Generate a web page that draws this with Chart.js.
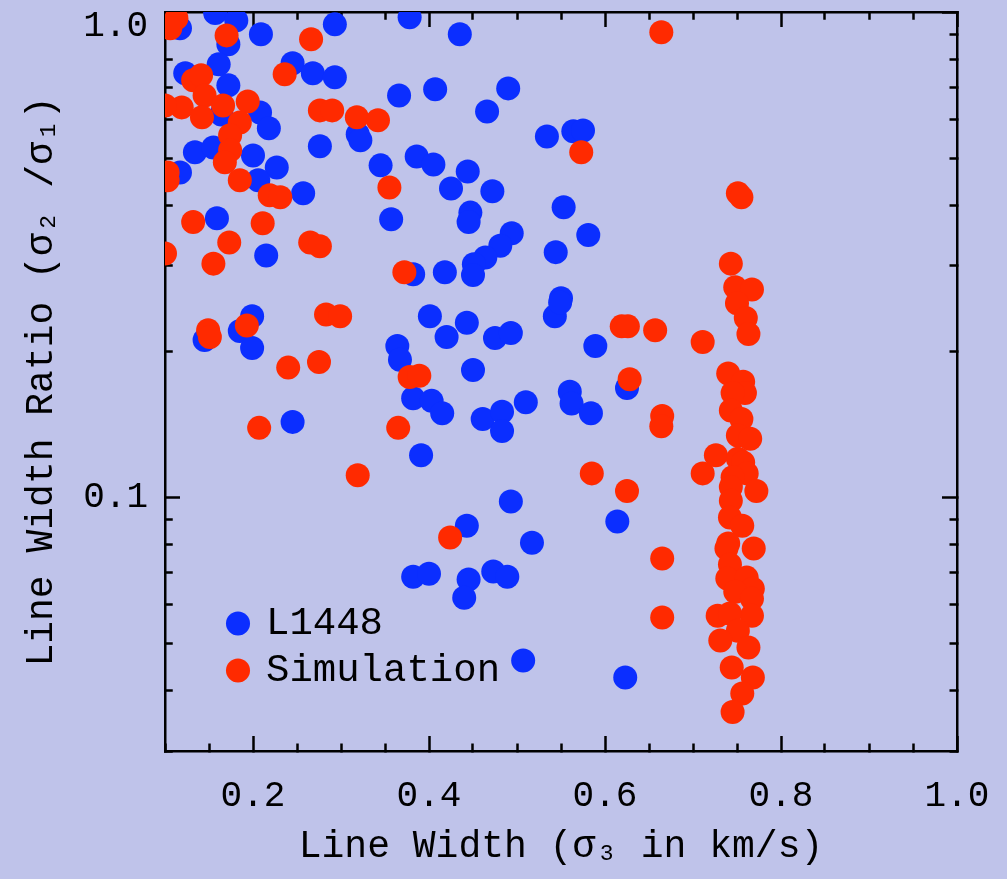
<!DOCTYPE html>
<html>
<head>
<meta charset="utf-8">
<title>Line Width Ratio vs Line Width</title>
<script src="https://cdn.jsdelivr.net/npm/chart.js@4.4.1/dist/chart.umd.min.js"></script>
<style>
  html, body { margin: 0; padding: 0; background: #bfc3ea; }
  #wrap { position: relative; width: 1007px; height: 879px; }
</style>
</head>
<body>
<div id="wrap"><canvas id="ratioChart"></canvas></div>
<script>
// L1448 measurements: sigma_3 (km/s) and sigma_2/sigma_1
const l1448X = [0.117, 0.157, 0.181, 0.172, 0.209, 0.293, 0.378, 0.435,
  0.161, 0.123, 0.245, 0.268, 0.293, 0.172, 0.164, 0.208, 0.218, 0.366, 0.407, 0.490, 0.466,
  0.134, 0.155, 0.200, 0.227, 0.117, 0.206, 0.257, 0.276, 0.319, 0.322, 0.534, 0.564, 0.575,
  0.345, 0.386, 0.405, 0.444, 0.425, 0.472, 0.553, 0.357, 0.447, 0.445, 0.159, 0.215, 0.494,
  0.481, 0.464, 0.451, 0.450, 0.581, 0.544, 0.382, 0.418, 0.550,
  0.199, 0.185, 0.199, 0.145, 0.245, 0.401, 0.420, 0.443, 0.475, 0.493, 0.543, 0.549, 0.364,
  0.367, 0.450, 0.589,
  0.382, 0.403, 0.415, 0.461, 0.483, 0.483, 0.510, 0.560, 0.562, 0.584, 0.391, 0.625,
  0.493, 0.614, 0.443, 0.517, 0.382, 0.400, 0.445, 0.440, 0.473, 0.489, 0.507, 0.623];
const l1448Y = [0.926, 0.995, 0.961, 0.858, 0.900, 0.943, 0.975, 0.900,
  0.780, 0.748, 0.784, 0.748, 0.734, 0.706, 0.615, 0.621, 0.576, 0.673, 0.693, 0.696, 0.624,
  0.514, 0.526, 0.506, 0.478, 0.467, 0.450, 0.423, 0.529, 0.560, 0.544, 0.554, 0.568, 0.570,
  0.483, 0.504, 0.485, 0.469, 0.433, 0.427, 0.396, 0.374, 0.386, 0.369, 0.376, 0.315, 0.350,
  0.330, 0.312, 0.302, 0.287, 0.347, 0.320, 0.288, 0.291, 0.257,
  0.236, 0.220, 0.203, 0.211, 0.143, 0.236, 0.214, 0.229, 0.213, 0.218, 0.236, 0.252, 0.205,
  0.192, 0.183, 0.205,
  0.160, 0.158, 0.149, 0.145, 0.150, 0.137, 0.157, 0.165, 0.156, 0.149, 0.122, 0.168,
  0.0980, 0.0891, 0.0874, 0.0806, 0.0686, 0.0696, 0.0677, 0.0621, 0.0703, 0.0686, 0.0461, 0.0425];

// simulated cores
const simX = [0.113, 0.106, 0.170, 0.266, 0.236, 0.132, 0.141, 0.145, 0.119, 0.142,
  0.166, 0.194, 0.185, 0.174, 0.174, 0.168, 0.185, 0.103, 0.103, 0.219,
  0.231, 0.132, 0.211, 0.173, 0.155, 0.265, 0.276, 0.100, 0.100, 0.276,
  0.290, 0.318, 0.342, 0.355, 0.372, 0.573, 0.664,
  0.283, 0.299, 0.275, 0.240, 0.193, 0.149, 0.151, 0.207, 0.378, 0.389,
  0.365, 0.319, 0.424, 0.619, 0.626, 0.657, 0.628, 0.665, 0.664, 0.585,
  0.625, 0.665, 0.665, 0.711, 0.711, 0.726, 0.751, 0.755,
  0.743, 0.748, 0.767, 0.750, 0.760, 0.763, 0.740, 0.757, 0.759, 0.745,
  0.743, 0.755, 0.751, 0.765, 0.751, 0.757, 0.761, 0.745, 0.743, 0.772,
  0.743, 0.742, 0.756, 0.740, 0.738, 0.769, 0.742, 0.739, 0.761, 0.768,
  0.748, 0.767, 0.728, 0.767, 0.742, 0.751, 0.731, 0.763, 0.744, 0.768,
  0.756, 0.745];
const simY = [0.971, 0.926, 0.895, 0.879, 0.744, 0.723, 0.741, 0.673, 0.636, 0.607,
  0.642, 0.654, 0.592, 0.557, 0.519, 0.490, 0.450, 0.467, 0.450, 0.419,
  0.415, 0.369, 0.367, 0.335, 0.303, 0.335, 0.329, 0.318, 0.642, 0.627,
  0.627, 0.607, 0.598, 0.435, 0.291, 0.514, 0.908,
  0.238, 0.236, 0.190, 0.185, 0.226, 0.221, 0.214, 0.139, 0.177, 0.178,
  0.139, 0.111, 0.0826, 0.225, 0.225, 0.221, 0.175, 0.147, 0.140, 0.112,
  0.103, 0.0748, 0.0565, 0.209, 0.112, 0.122, 0.423, 0.415,
  0.303, 0.271, 0.268, 0.251, 0.234, 0.217, 0.180, 0.173, 0.164, 0.164,
  0.151, 0.145, 0.134, 0.132, 0.120, 0.118, 0.112, 0.110, 0.105, 0.103,
  0.0984, 0.0908, 0.0874, 0.0803, 0.0784, 0.0784, 0.0727, 0.0680, 0.0683, 0.0648,
  0.0639, 0.0618, 0.0570, 0.0570, 0.0576, 0.0531, 0.0507, 0.0490, 0.0446, 0.0425,
  0.0394, 0.0361];

// axis ticks
const xTickValues = [0.1, 0.15, 0.2, 0.25, 0.3, 0.35, 0.4, 0.45, 0.5, 0.55,
  0.6, 0.65, 0.7, 0.75, 0.8, 0.85, 0.9, 0.95, 1.0];
const xMajorValues = [0.2, 0.4, 0.6, 0.8, 1.0];
const xMajorLabels = ['0.2', '0.4', '0.6', '0.8', '1.0'];
const yTickValues = [0.03, 0.04, 0.05, 0.06, 0.07, 0.08, 0.09,
  0.1, 0.2, 0.3, 0.4, 0.5, 0.6, 0.7, 0.8, 0.9, 1.0];
const yMajorValues = [0.1, 1.0];
const yMajorLabels = ['0.1', '1.0'];

const FONT = "'Liberation Mono', 'DejaVu Sans Mono', monospace";
const INK = '#000000';
const BLUE = '#0b2eff';
const RED = '#ff2a00';
const FRAME = 2.5;
const MAJOR_LEN = 15;
const MINOR_LEN = 9;

function near(a, b) { return Math.abs(a - b) < 1e-6; }
function majorIndex(list, v) { return list.findIndex(m => near(m, v)); }

// minor ticks are cut short with a dash pattern; left/top ticks are
// stroked from the inner end, bottom/right ones from the frame
function tickDash(majors, fromFrame) {
  const full = MAJOR_LEN + FRAME / 2;
  return ctx => {
    if (majorIndex(majors, ctx.tick.value) >= 0) return [];
    return fromFrame ? [MINOR_LEN, 60] : [0, full - MINOR_LEN, 60];
  };
}

function setTicks(values) {
  return scale => { scale.ticks = values.map(v => ({ value: v })); };
}

function fixSize(size) {
  return scale => {
    if (scale.isHorizontal()) scale.height = size; else scale.width = size;
    scale.paddingLeft = scale.paddingRight = scale.paddingTop = scale.paddingBottom = 0;
  };
}

function frameAxis(extra, majors, fromFrame) {
  return Object.assign({
    display: true,
    border: { display: true, color: INK, width: FRAME },
    grid: {
      display: true,
      drawOnChartArea: false,
      drawTicks: true,
      tickLength: -MAJOR_LEN,
      tickWidth: FRAME,
      tickColor: INK,
      tickBorderDash: tickDash(majors, fromFrame)
    }
  }, extra);
}

// drop the legend into the lower left of the plot frame
const legendSpot = {
  id: 'legendSpot',
  beforeDraw(chart) {
    const lg = chart.legend;
    const area = chart.chartArea;
    lg.left = area.left + 56.5;
    lg.top = area.bottom - 155;
    lg.right = lg.left + 400;
    lg.bottom = lg.top + 130;
  }
};

const ctx = document.getElementById('ratioChart').getContext('2d');
const ratioChart = new Chart(ctx, {
  type: 'scatter',
  data: {
    datasets: [{
      label: 'L1448',
      data: l1448X.map((x, i) => ({ x: x, y: l1448Y[i] })),
      backgroundColor: BLUE,
      pointBackgroundColor: BLUE,
      pointBorderWidth: 0,
      pointRadius: 12,
      pointHoverRadius: 12,
      order: 2
    }, {
      label: 'Simulation',
      data: simX.map((x, i) => ({ x: x, y: simY[i] })),
      backgroundColor: RED,
      pointBackgroundColor: RED,
      pointBorderWidth: 0,
      pointRadius: 12,
      pointHoverRadius: 12,
      order: 1
    }]
  },
  options: {
    responsive: true,
    maintainAspectRatio: false,
    animation: false,
    events: [],
    layout: { padding: 0 },
    plugins: {
      tooltip: { enabled: false },
      legend: {
        position: 'chartArea',
        align: 'start',
        labels: {
          usePointStyle: true,
          pointStyle: 'circle',
          boxWidth: 17,
          boxHeight: 17,
          padding: 8,
          color: INK,
          font: { family: FONT, size: 39 },
          sort: (a, b) => a.datasetIndex - b.datasetIndex
        }
      }
    },
    scales: {
      x: frameAxis({
        type: 'linear',
        position: 'bottom',
        min: 0.1,
        max: 1.0,
        weight: 0,
        afterBuildTicks: setTicks(xTickValues),
        afterFit: fixSize(128),
        ticks: {
          autoSkip: false,
          maxRotation: 0,
          padding: 39,
          color: INK,
          font: { family: FONT, size: 36 },
          callback: v => {
            const i = majorIndex(xMajorValues, v);
            return i >= 0 ? xMajorLabels[i] : '';
          }
        },
        title: {
          display: true,
          text: 'Line Width (σ₃ in km/s)',
          color: INK,
          font: { family: FONT, size: 38 },
          padding: { top: 0, bottom: 9 }
        }
      }, xMajorValues, true),
      y: frameAxis({
        type: 'logarithmic',
        position: 'left',
        min: 0.03,
        max: 1.0,
        weight: 0,
        afterBuildTicks: setTicks(yTickValues),
        afterFit: fixSize(165),
        ticks: {
          autoSkip: false,
          padding: 32,
          color: INK,
          font: { family: FONT, size: 36, lineHeight: 0.83 },
          callback: v => {
            const i = majorIndex(yMajorValues, v);
            if (i < 0) return '';
            // the top label sits just under its tick, inside the frame
            return near(v, 1.0) ? ['', yMajorLabels[i]] : yMajorLabels[i];
          }
        },
        title: {
          display: true,
          text: 'Line Width Ratio (σ₂ /σ₁)',
          color: INK,
          font: { family: FONT, size: 38 },
          padding: { top: 19, bottom: 0 }
        }
      }, yMajorValues, false),
      x2: frameAxis({
        type: 'linear',
        position: 'top',
        min: 0.1,
        max: 1.0,
        afterBuildTicks: setTicks(xTickValues),
        afterFit: fixSize(12),
        ticks: { display: false, autoSkip: false }
      }, xMajorValues, false),
      y2: frameAxis({
        type: 'logarithmic',
        position: 'right',
        min: 0.03,
        max: 1.0,
        afterBuildTicks: setTicks(yTickValues),
        afterFit: fixSize(50),
        ticks: { display: false, autoSkip: false }
      }, yMajorValues, true)
    }
  },
  plugins: [legendSpot]
});
</script>
</body>
</html>
